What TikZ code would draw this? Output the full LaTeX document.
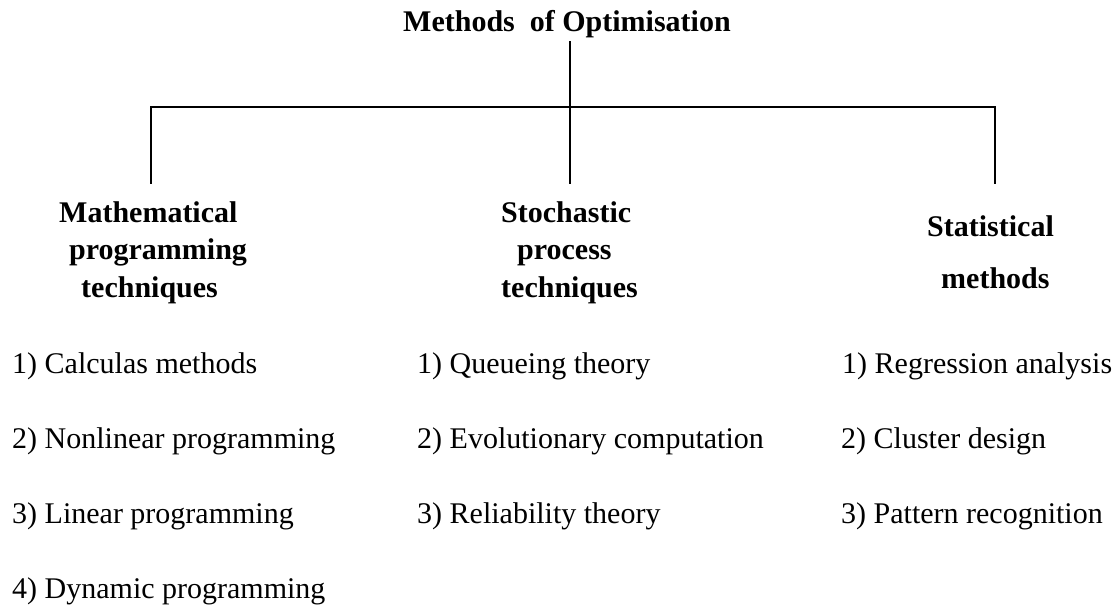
\documentclass[tikz,border=0pt]{standalone}
\usepackage{fontspec}
\setmainfont{Liberation Serif}
\begin{document}
\begin{tikzpicture}[x=1pt,y=-1pt,
  txt/.style={anchor=base west,inner sep=0pt,font=\fontsize{30}{36}\selectfont},
  head/.style={txt,font=\fontsize{30}{36}\selectfont\bfseries},
  conn/.style={line width=1.5pt,line cap=rect}]
\useasboundingbox (0,0) rectangle (1117,613);
% title
\node[head] (title) at (403,31) {Methods\ \ of Optimisation};
% headings
\node[head] (m1) at (59,222) {Mathematical};
\node[head] (m2) at (69,259) {programming};
\node[head] (m3) at (81,297) {techniques};
\node[head] (s1) at (501,222) {Stochastic};
\node[head] (s2) at (517,259) {process};
\node[head] (s3) at (501,297) {techniques};
\node[head] (t1) at (927,236) {Statistical};
\node[head] (t2) at (941,288) {methods};
% items
\node[txt] (a1) at (12,373) {1) Calculas methods};
\node[txt] (a2) at (12,448) {2) Nonlinear programming};
\node[txt] (a3) at (12,523) {3) Linear programming};
\node[txt] (a4) at (12,598) {4) Dynamic programming};
\node[txt] (b1) at (417,373) {1) Queueing theory};
\node[txt] (b2) at (417,448) {2) Evolutionary computation};
\node[txt] (b3) at (417,523) {3) Reliability theory};
\node[txt] (c1) at (842,373) {1) Regression analysis};
\node[txt] (c2) at (841,448) {2) Cluster design};
\node[txt] (c3) at (841,523) {3) Pattern recognition};
% connectors
\coordinate (top) at (570,42);
\coordinate (jm) at (570,107);
\coordinate (jl) at (151,107);
\coordinate (jr) at (995,107);
\coordinate (el) at (151,183);
\coordinate (em) at (570,183);
\coordinate (er) at (995,183);
\draw[conn] (top) -- (em);
\draw[conn] (el) -- (jl) -- (jr) -- (er);
\end{tikzpicture}
\end{document}
